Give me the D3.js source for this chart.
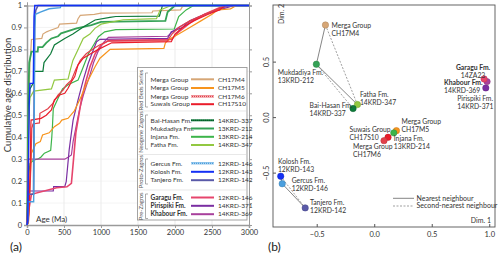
<!DOCTYPE html>
<html>
<head>
<meta charset="utf-8">
<script src="https://cdn.jsdelivr.net/npm/d3@7"></script>
<style>
  body { margin: 0; background: #fff; }
  svg { font-family: Lato, "Open Sans", sans-serif; }
</style>
</head>
<body>
<svg width="500" height="256"></svg>
<script>
// --------------- //
// DATA //
// --------------- //
// sample names + ids, in legend order
let formations = ["Merga Group", "Merga Group", "Merga Group", "Suwais Group",
    "Bai-Hasan Fm.", "Mukdadiya Fm.", "Injana Fm.", "Fatha Fm.",
    "Gercus Fm.", "Kolosh Fm.", "Tanjero Fm.",
    "Garagu Fm.", "Pirispiki Fm.", "Khabour Fm."];
let sampleIds = ["CH17M4", "CH17M5", "CH17M6", "CH17S10",
    "14KRD-337", "13KRD-212", "13KRD-214", "14KRD-347",
    "12KRD-146", "12KRD-143", "12KRD-142",
    "12KRD-146", "14KRD-371", "14KRD-369"];
let mdsIds = ["CH17M4", "CH17M5", "CH17M6", "CH17S10",
    "14KRD-337", "13KRD-212", "13KRD-214", "14KRD-347",
    "12KRD-146", "12KRD-143", "12KRD-142",
    "14ZA23", "14KRD-371", "14KRD-369"];
let groupNames = ["Red Beds Series", "Neogene Zagros", "Proto-Zagros", "Pre-Zagros"];

// cumulative age distributions: [age (Ma), cumulative fraction]
let ch17m4 = [[0,0],[10,0.05],[20,0.35],[30,0.6],[40,0.74],[50,0.78],[60,0.845],[200,0.85],[215,0.87],[265,0.88],[300,0.885],[420,0.9],[440,0.915],[670,0.92],[690,0.94],[720,0.955],[910,0.96],[1000,0.965],[1690,0.967],[1700,0.975],[2075,0.98],[2100,0.995],[2200,1]];
let ch17m5 = [[0,0],[20,0.01],[40,0.2],[60,0.327],[120,0.37],[180,0.38],[210,0.41],[300,0.42],[370,0.448],[440,0.463],[470,0.478],[555,0.486],[640,0.52],[736,0.588],[805,0.645],[918,0.72],[986,0.76],[1055,0.78],[1123,0.8],[1850,0.805],[1870,0.83],[1940,0.85],[2050,0.87],[2200,0.9],[2350,0.93],[2500,0.96],[2580,0.98],[2750,0.985],[2830,1]];
let ch17m6 = [[0,0],[20,0.02],[40,0.15],[55,0.3],[65,0.44],[80,0.46],[168,0.465],[175,0.509],[282,0.53],[350,0.554],[418,0.592],[487,0.615],[532,0.638],[600,0.66],[660,0.71],[720,0.75],[800,0.78],[880,0.8],[980,0.82],[1100,0.838],[1900,0.84],[1960,0.87],[2050,0.9],[2200,0.93],[2400,0.96],[2550,0.98],[2700,1]];
let ch17s10 = [[0,0],[15,0.01],[30,0.1],[45,0.3],[52,0.45],[55,0.478],[190,0.486],[260,0.5],[330,0.524],[370,0.57],[440,0.592],[510,0.6],[555,0.623],[600,0.653],[645,0.676],[690,0.73],[760,0.76],[860,0.78],[965,0.8],[1145,0.83],[1950,0.835],[2000,0.87],[2100,0.9],[2250,0.93],[2450,0.96],[2600,0.98],[2680,1]];
let krd337 = [[0,0],[5,0.05],[15,0.3],[25,0.55],[40,0.62],[90,0.65],[100,0.7],[215,0.7],[230,0.74],[320,0.78],[370,0.82],[510,0.85],[620,0.87],[735,0.896],[800,0.91],[920,0.934],[1120,0.946],[1200,0.95],[1790,0.952],[1830,1]];
let krd212 = [[0,0],[5,0.1],[12,0.4],[20,0.6],[30,0.74],[60,0.79],[145,0.79],[150,0.81],[210,0.81],[260,0.83],[330,0.85],[420,0.86],[460,0.873],[670,0.896],[870,0.911],[1000,0.925],[1870,0.93],[1900,0.97],[2000,1]];
let krd214 = [[0,0],[5,0.05],[15,0.2],[40,0.28],[90,0.296],[145,0.3],[190,0.31],[235,0.327],[280,0.334],[320,0.34],[335,0.4],[345,0.456],[355,0.53],[420,0.577],[480,0.62],[560,0.64],[690,0.66],[760,0.72],[830,0.78],[900,0.82],[965,0.858],[1050,0.88],[1200,0.89],[1990,0.893],[2050,0.95],[2150,0.98],[2250,1]];
let krd347 = [[0,0],[5,0.05],[12,0.3],[25,0.5],[40,0.58],[90,0.61],[330,0.62],[370,0.66],[555,0.665],[580,0.7],[620,0.75],[690,0.8],[760,0.85],[850,0.87],[918,0.896],[1000,0.915],[1300,0.935],[1750,0.94],[1800,0.98],[1950,1]];
let krd146 = [[0,0],[10,0.01],[15,0.106],[90,0.106],[95,0.3],[100,0.6],[105,0.9],[115,0.96],[180,0.97],[300,0.985],[450,0.99],[460,1]];
let krd143 = [[0,0],[10,0.02],[20,0.3],[30,0.55],[40,0.645],[85,0.645],[90,0.8],[95,0.95],[105,1]];
let krd142 = [[0,0],[10,0.02],[15,0.14],[88,0.14],[95,0.5],[100,0.8],[105,0.95],[120,0.98],[150,1]];
let za23 = [[0,0],[10,0.02],[30,0.08],[60,0.14],[400,0.17],[540,0.174],[600,0.19],[640,0.342],[660,0.42],[700,0.5],[740,0.58],[800,0.66],[850,0.72],[920,0.78],[1000,0.82],[1100,0.84],[1950,0.845],[2050,0.88],[2200,0.92],[2400,0.96],[2600,0.99],[2700,1]];
let krd371 = [[0,0],[5,0.05],[12,0.155],[355,0.155],[360,0.175],[510,0.175],[530,0.197],[570,0.342],[600,0.42],[623,0.478],[690,0.57],[760,0.66],[828,0.737],[896,0.797],[940,0.835],[986,0.846],[1900,0.85],[1950,0.88],[2100,0.9],[2200,0.93],[2400,0.96],[2600,0.98],[2800,1]];
let krd369 = [[0,0],[8,0.1],[15,0.3],[510,0.3],[560,0.31],[600,0.319],[623,0.38],[668,0.456],[713,0.53],[760,0.59],[805,0.638],[850,0.683],[900,0.74],[960,0.79],[1030,0.83],[1100,0.855],[1900,0.86],[2000,0.89],[2150,0.92],[2350,0.95],[2550,0.98],[2750,1]];
let curves = [ch17m4, ch17m5, ch17m6, ch17s10, krd337, krd212, krd214, krd347,
    krd146, krd143, krd142, za23, krd371, krd369];

// MDS coordinates
let dim1 = [-0.424, 0.193, 0.085, 0.12, -0.184, -0.503, 0.17, -0.146, -0.80, -0.813, -0.60, 0.955, 0.97, 0.981];
let dim2 = [0.83, -0.122, -0.212, -0.182, 0.077, 0.476, -0.142, 0.113, -0.60, -0.533, -0.818, 0.344, 0.263, 0.32];
let nearest = [[0, 5], [5, 7], [9, 8], [8, 10], [7, 4], [1, 6], [3, 2]];
let secondNearest = [[0, 7], [5, 4], [9, 10]];

let ageTicks = [0, 500, 1000, 1500, 2000, 2500, 3000];
let cdfTicks = [0, 0.1, 0.2, 0.3, 0.4, 0.5, 0.6, 0.7, 0.8, 0.9, 1];
let dimTicks = [-0.5, 0, 0.5, 1];

// --------------- //
// STYLES //
// --------------- //
let colors = ["#d6a676", "#f7941d", "#e2404a", "#ea1c2a",
    "#0d7a3a", "#35a256", "#3cb44a", "#92c841",
    "#4a9fde", "#1430f5", "#5a5aa8",
    "#e6456c", "#7a2ea2", "#a8409c"];
let widths = [1.2, 1.2, 1.2, 1.2, 1.2, 1.8, 1.2, 1.2, 1.4, 1.4, 1.6, 1.6, 1.2, 1.2];
let dotted = [false, false, true, false, true, false, false, false, true, false, false, false, false, false];

let svg = d3.select("svg");

// --------------- //
// PANEL (a) //
// --------------- //
let x = d3.scaleLinear().domain([0, 3000]).range([27, 249]);
let y = d3.scaleLinear().domain([0, 1]).range([225, 5.5]);

let gA = svg.append("g");

// grid
gA.selectAll(".vgrid").data(ageTicks.slice(1, -1)).enter().append("line")
    .attr("x1", d => x(d)).attr("x2", d => x(d)).attr("y1", y(0)).attr("y2", y(1))
    .attr("stroke", "#e6e6e6").attr("stroke-width", 0.8);
gA.selectAll(".hgrid").data(cdfTicks.slice(1, -1)).enter().append("line")
    .attr("x1", x(0)).attr("x2", x(3000)).attr("y1", d => y(d)).attr("y2", d => y(d))
    .attr("stroke", "#ececec").attr("stroke-width", 0.6);

// axes
let axB = gA.append("g").attr("transform", `translate(0,${y(0)})`)
    .call(d3.axisBottom(x).tickValues(ageTicks).tickSize(3).tickPadding(2).tickFormat(d3.format("d")));
let axL = gA.append("g").attr("transform", `translate(${x(0)},0)`)
    .call(d3.axisLeft(y).tickValues(cdfTicks).tickSize(3).tickPadding(2)
        .tickFormat(d => d === 0 ? "0" : d === 1 ? "1" : d3.format(".1f")(d)));
let axT = gA.append("g").attr("transform", `translate(0,${y(1)})`)
    .call(d3.axisTop(x).tickValues(ageTicks).tickSize(3).tickFormat(""));
let axR = gA.append("g").attr("transform", `translate(${x(3000)},0)`)
    .call(d3.axisRight(y).tickValues(cdfTicks).tickSize(3).tickFormat(""));
[axB, axL, axT, axR].forEach(a => {
    a.select(".domain").attr("stroke", "#9a9a9a");
    a.selectAll(".tick line").attr("stroke", "#9a9a9a");
    a.selectAll("text").attr("font-family", "Lato").attr("font-size", 7.5).attr("fill", "#333");
});
axB.select(".domain").attr("stroke-width", 1.5);
axL.select(".domain").attr("stroke-width", 1.5);

// curves
let line = d3.line().x(d => x(d[0])).y(d => y(d[1]));
let drawOrder = [0, 5, 4, 7, 6, 13, 12, 11, 1, 2, 3, 10, 8, 9];
drawOrder.forEach(i => {
    let pts = curves[i].concat([[3000, 1]]);
    gA.append("path").datum(pts)
        .attr("d", line)
        .attr("fill", "none")
        .attr("stroke", colors[i])
        .attr("stroke-width", widths[i])
        .attr("stroke-linejoin", "miter");
});

// Age label
gA.append("text").attr("x", 36).attr("y", 222)
    .attr("font-size", 8).attr("fill", "#333").text("Age (Ma)");

// y title
gA.append("text")
    .attr("transform", "translate(11,95) rotate(-90)")
    .attr("text-anchor", "middle")
    .attr("font-size", 9.5).attr("fill", "#333")
    .text("Cumulative age distribution");

// legend
let leg = gA.append("g");
leg.append("rect").attr("x", 137.5).attr("y", 67.5).attr("width", 109.5).attr("height", 152.5)
    .attr("fill", "#fff").attr("stroke", "#9a9a9a").attr("stroke-width", 0.9);

let rowY = [79.3, 88, 96.4, 104.2, 120.3, 128.5, 136.8, 145, 163.3, 171.8, 180.2, 197.5, 205.8, 214.2];
let brackets = [[73, 107], [115, 149], [159, 184], [194, 218.5]];
let dividers = [111, 154.5, 190];

dividers.forEach(d => {
    leg.append("line").attr("x1", 138).attr("x2", 246.5).attr("y1", d).attr("y2", d)
        .attr("stroke", "#d8d8d8").attr("stroke-width", 0.6);
});
groupNames.forEach((g, k) => {
    let b = brackets[k];
    leg.append("path")
        .attr("d", `M148,${b[0]}H145.5V${b[1]}H148`)
        .attr("fill", "none").attr("stroke", "#888").attr("stroke-width", 0.7);
    leg.append("text")
        .attr("transform", `translate(143,${(b[0] + b[1]) / 2}) rotate(-90)`)
        .attr("text-anchor", "middle")
        .attr("font-size", 5.8).attr("fill", "#555")
        .text(g);
});
formations.forEach((f, i) => {
    let yy = rowY[i];
    leg.append("text").attr("x", 150.5).attr("y", yy + 2.2)
        .attr("font-size", 6.5).attr("fill", "#333")
        .attr("font-weight", i >= 11 ? 700 : 400)
        .text(f);
    leg.append("line").attr("x1", 191).attr("x2", 214).attr("y1", yy).attr("y2", yy)
        .attr("stroke", colors[i]).attr("stroke-width", 2);
    if (dotted[i]) {
        leg.append("line").attr("x1", 191).attr("x2", 214).attr("y1", yy).attr("y2", yy)
            .attr("stroke", i === 4 ? "#0a3d1e" : "#fff").attr("stroke-width", 0.7)
            .attr("stroke-dasharray", "1,1");
    }
    leg.append("text").attr("x", 218).attr("y", yy + 2.2)
        .attr("font-size", 6.5).attr("fill", "#333")
        .text(sampleIds[i]);
});

svg.append("text").attr("x", 10).attr("y", 251)
    .attr("font-size", 12).attr("fill", "#222").text("(a)");

// --------------- //
// PANEL (b) //
// --------------- //
let xm = d3.scaleLinear().domain([-0.88, 1.05]).range([273, 495]);
let ym = d3.scaleLinear().domain([-0.99, 1.01]).range([227, 5]);

let gB = svg.append("g");
gB.append("rect").attr("x", 273).attr("y", 5).attr("width", 222).attr("height", 222)
    .attr("fill", "none").attr("stroke", "#555").attr("stroke-width", 0.9);

let bx = gB.append("g").attr("transform", "translate(0,227)")
    .call(d3.axisBottom(xm).tickValues(dimTicks).tickSize(-3).tickPadding(5)
        .tickFormat(d3.format(".1f")));
let by = gB.append("g").attr("transform", "translate(273,0)")
    .call(d3.axisLeft(ym).tickValues([-0.5, 0, 0.5]).tickSize(-3).tickPadding(3)
        .tickFormat(d3.format(".1f")));
[bx, by].forEach(a => {
    a.select(".domain").remove();
    a.selectAll(".tick line").attr("stroke", "#555");
    a.selectAll("text").attr("font-family", "Lato").attr("font-size", 7.5).attr("fill", "#333");
});
by.selectAll(".tick text")
    .attr("text-anchor", "middle")
    .attr("transform", "translate(-4,0) rotate(-90)")
    .attr("x", 0).attr("dy", "0");

gB.append("text").attr("transform", "translate(284,14) rotate(-90)")
    .attr("text-anchor", "middle").attr("font-size", 7).attr("fill", "#333").text("Dim. 2");
gB.append("text").attr("x", 491).attr("y", 223)
    .attr("text-anchor", "end").attr("font-size", 7).attr("fill", "#333").text("Dim. 1");

// neighbour lines
nearest.forEach(p => {
    gB.append("line")
        .attr("x1", xm(dim1[p[0]])).attr("y1", ym(dim2[p[0]]))
        .attr("x2", xm(dim1[p[1]])).attr("y2", ym(dim2[p[1]]))
        .attr("stroke", "#666").attr("stroke-width", 0.8);
});
secondNearest.forEach(p => {
    gB.append("line")
        .attr("x1", xm(dim1[p[0]])).attr("y1", ym(dim2[p[0]]))
        .attr("x2", xm(dim1[p[1]])).attr("y2", ym(dim2[p[1]]))
        .attr("stroke", "#777").attr("stroke-width", 0.7)
        .attr("stroke-dasharray", "2,1.5");
});

// points
let pointOrder = [0, 5, 7, 4, 1, 6, 3, 2, 9, 8, 10, 12, 13, 11];
pointOrder.forEach(i => {
    gB.append("circle")
        .attr("cx", xm(dim1[i])).attr("cy", ym(dim2[i])).attr("r", 3.2)
        .attr("fill", colors[i])
        .attr("stroke", d3.color(colors[i]).darker(0.6)).attr("stroke-width", 0.5);
});

// point labels: [dx, dy, anchor]
let labelPos = [[6, 3, "start"], [5, -6.5, "start"], [-31, 8.5, "start"], [-38.5, -5, "start"],
    [-43.5, -1, "start"], [-38.5, 11, "start"], [0, 8.5, "start"], [2.5, -7.5, "start"],
    [9.5, -1, "start"], [-2.8, -12.5, "start"], [4.8, -2.5, "start"],
    [-11, -9, "middle"], [-28.5, 13, "start"], [-43, 3.2, "start"]];
formations.forEach((f, i) => {
    let lp = labelPos[i];
    let t = gB.append("text")
        .attr("x", xm(dim1[i]) + lp[0]).attr("y", ym(dim2[i]) + lp[1])
        .attr("text-anchor", lp[2])
        .attr("font-size", 6.8).attr("fill", "#333");
    t.append("tspan").text(f)
        .attr("font-weight", (i === 13 || i === 11) ? 700 : 400);
    t.append("tspan").attr("x", xm(dim1[i]) + lp[0]).attr("dy", 8).text(mdsIds[i]);
});

// legend (b)
gB.append("line").attr("x1", 393).attr("x2", 414).attr("y1", 198.3).attr("y2", 198.3)
    .attr("stroke", "#666").attr("stroke-width", 0.8);
gB.append("line").attr("x1", 393).attr("x2", 414).attr("y1", 206).attr("y2", 206)
    .attr("stroke", "#777").attr("stroke-width", 0.7).attr("stroke-dasharray", "2,1.5");
gB.append("text").attr("x", 416.5).attr("y", 200.7)
    .attr("font-size", 7).attr("fill", "#333").text("Nearest neighbour");
gB.append("text").attr("x", 416.5).attr("y", 208.4)
    .attr("font-size", 7).attr("fill", "#333").text("Second-nearest neighbour");

svg.append("text").attr("x", 268).attr("y", 251)
    .attr("font-size", 12).attr("fill", "#222").text("(b)");
</script>
</body>
</html>
